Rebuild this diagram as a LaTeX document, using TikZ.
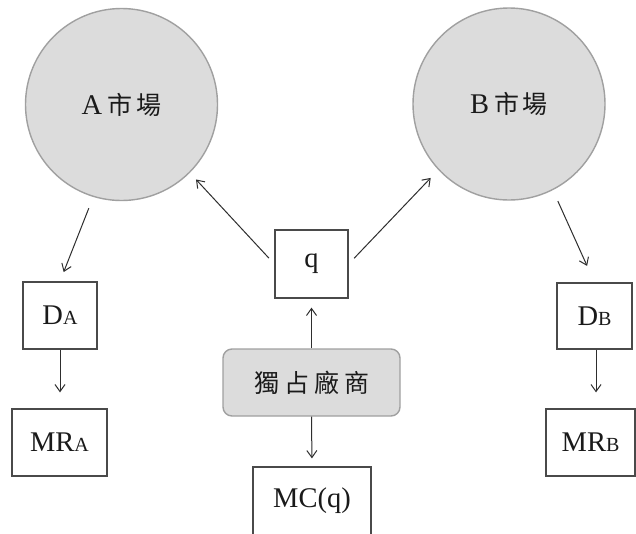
\documentclass[tikz,border=0pt]{standalone}
\usepackage{fontspec}
\setmainfont{Liberation Serif}
\newfontfamily\cjk{Noto Sans CJK TC}
\usetikzlibrary{arrows.meta}
\definecolor{circfill}{HTML}{DCDCDC}
\definecolor{circline}{HTML}{A0A0A0}
\definecolor{boxline}{HTML}{4A4A4A}
\definecolor{arrline}{HTML}{2E2E2E}
\definecolor{txt}{HTML}{1A1A1A}
\tikzset{
  market/.style={circle, draw=circline, line width=1.4pt, fill=circfill, inner sep=0pt, minimum size=192pt, text=txt},
  sqbox/.style={rectangle, draw=boxline, line width=1.3pt, fill=white, inner sep=0pt, text=txt},
  firmbox/.style={rectangle, rounded corners=9pt, draw=circline, line width=1.4pt, fill=circfill, inner sep=0pt, text=txt},
  arr/.style={draw=arrline, line width=1pt, -{Straight Barb[length=7pt,width=10pt,line width=1pt]}},
  big/.style={font=\fontsize{28.5}{31}\selectfont},
}
\newcommand{\sm}[1]{{\fontsize{20}{22}\selectfont #1}}
\begin{document}
\begin{tikzpicture}[x=1pt,y=-1pt]
\useasboundingbox (0,0) rectangle (636,533);
\clip (0,0) rectangle (636,533);
\fill[white] (0,0) rectangle (636,533);

\node[market, big] (A) at (121.5,104.5) {A\hspace{5pt}{\cjk\fontsize{25}{28}\selectfont 市\hspace{4pt}場}};
\node[market, big] (B) at (509,104) {B\hspace{5pt}{\cjk\fontsize{25}{28}\selectfont 市\hspace{4pt}場}};

\node[sqbox, big, minimum width=73pt, minimum height=68pt] (q) at (311.5,264) {q};
\node[sqbox, big, minimum width=74pt, minimum height=67pt] (DA) at (60,315.5) {D\sm{A}};
\node[sqbox, big, minimum width=75pt, minimum height=66pt] (DB) at (594.5,316) {D\sm{B}};
\node[sqbox, big, minimum width=95pt, minimum height=67pt] (MRA) at (59.5,442.5) {MR\sm{A}};
\node[sqbox, big, minimum width=89pt, minimum height=67pt] (MRB) at (590.5,442.5) {MR\sm{B}};
\node[firmbox, minimum width=177pt, minimum height=67pt, font=\cjk\fontsize{25}{28}\selectfont] (firm) at (311.5,382.5) {獨\hspace{5pt}占\hspace{5pt}廠\hspace{5pt}商};
\node[sqbox, big, minimum width=118pt, minimum height=68pt] (MC) at (312,501) {MC(q)};

\draw[arr, shorten <=8pt, shorten >=9pt] (q.west) -- (A.315);
\draw[arr, shorten <=8pt, shorten >=11pt] (q.east) -- (B.223);
\draw[arr, shorten <=12pt, shorten >=10pt] (A.253) -- (DA.north);
\draw[arr, shorten <=12pt, shorten >=18pt] (B.297) -- (DB.north);
\draw[arr, shorten >=16pt] (DA.south) -- (DA.south |- MRA.north);
\draw[arr, shorten >=16pt] ([xshift=1.5pt]DB.south) -- ([xshift=1.5pt]DB.south |- MRB.north);
\draw[arr, shorten >=9pt] (firm.north) -- (q.south);
\draw[arr, shorten >=8pt] (firm.south) -- (MC.north);
\end{tikzpicture}
\end{document}
